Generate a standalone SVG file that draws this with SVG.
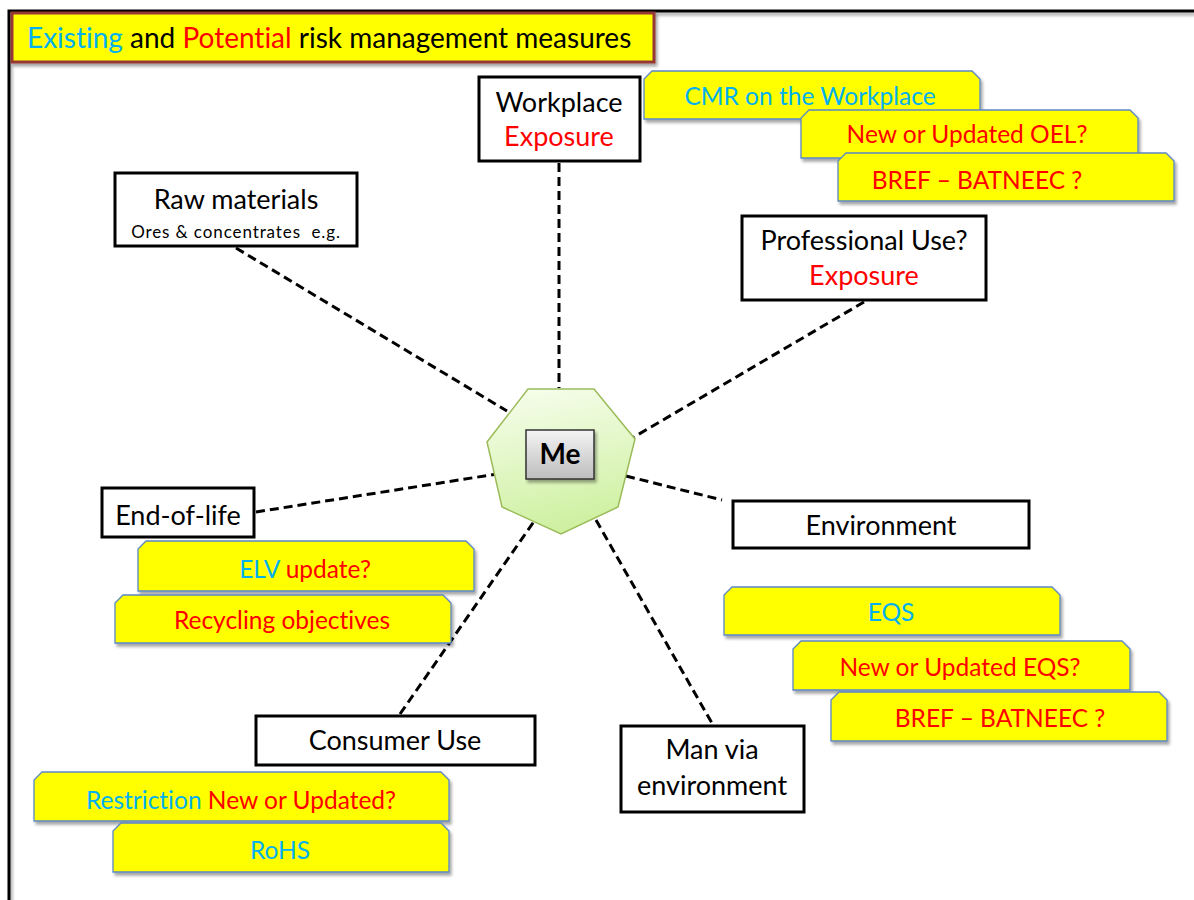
<svg xmlns="http://www.w3.org/2000/svg" width="1194" height="900" viewBox="0 0 1194 900">
  <defs>
    <filter id="shadow" x="-10%" y="-20%" width="120%" height="150%">
      <feDropShadow dx="2" dy="3" stdDeviation="1.5" flood-color="#000" flood-opacity="0.35"/>
    </filter>
    <linearGradient id="gHept" x1="0.3" y1="0" x2="0.5" y2="1">
      <stop offset="0" stop-color="#f5fdea"/>
      <stop offset="1" stop-color="#cdf09e"/>
    </linearGradient>
    <linearGradient id="gMe" x1="0" y1="0" x2="0" y2="1">
      <stop offset="0" stop-color="#f4f4f4"/>
      <stop offset="1" stop-color="#bdbdbd"/>
    </linearGradient>
    <style>
      text { font-family: Lato, "Open Sans", "Liberation Sans", sans-serif; font-variant-ligatures: none; }
      .node rect { fill: #fff; stroke: #000; stroke-width: 3; }
      .lbl { font-size: 27px; fill: #000; text-anchor: middle; }
      .call path { fill: #ffff00; stroke: #5b87c5; stroke-width: 1.3; filter: url(#shadow); }
      .ct { font-size: 24.5px; text-anchor: middle; }
      .cy { fill: #00b0f0; }
      .rd { fill: #ff0000; }
      .conn line { stroke: #000; stroke-width: 3; stroke-dasharray: 9 5; }
    </style>
  </defs>

  <!-- page frame -->
  <path d="M9,900 V11 H1194" fill="none" stroke="#000" stroke-width="3" filter="url(#shadow)"/>

  <!-- title banner -->
  <g id="title">
    <rect x="12" y="13" width="642" height="49" fill="#ffff00" stroke="#953735" stroke-width="3" filter="url(#shadow)"/>
    <text x="27" y="48" font-size="28"><tspan class="cy">Existing</tspan> and <tspan class="rd">Potential</tspan> risk management measures</text>
  </g>

  <!-- dashed connectors -->
  <g id="connectors" class="conn">
    <line x1="559" y1="163" x2="559" y2="388"/>
    <line x1="236" y1="248" x2="507" y2="411"/>
    <line x1="864" y1="302" x2="634" y2="437"/>
    <line x1="256" y1="512" x2="497" y2="474"/>
    <line x1="626" y1="476" x2="722" y2="500"/>
    <line x1="400" y1="714" x2="535" y2="520"/>
    <line x1="596" y1="520" x2="713" y2="725"/>
  </g>

  <!-- central node -->
  <g id="me">
    <polygon points="528,389 594,389 635,439 618,507 561,534 502,507 487,442" fill="url(#gHept)" stroke="#9bbb59" stroke-width="1.5"/>
    <rect x="526" y="430" width="68" height="49" fill="url(#gMe)" stroke="#333" stroke-width="1.5" filter="url(#shadow)"/>
    <text x="560" y="464" font-size="28" font-weight="bold" text-anchor="middle">Me</text>
  </g>

  <!-- outer nodes -->
  <g id="workplace" class="node">
    <rect x="479" y="77" width="161" height="84"/>
    <text class="lbl" x="559" y="112">Workplace</text>
    <text class="lbl rd" x="559" y="146">Exposure</text>
  </g>
  <g id="raw-materials" class="node">
    <rect x="115" y="173" width="242" height="73"/>
    <text class="lbl" x="236" y="209">Raw materials</text>
    <text x="236" y="238" font-size="17" letter-spacing="0.9" text-anchor="middle" xml:space="preserve">Ores &amp; concentrates  e.g.</text>
  </g>
  <g id="professional" class="node">
    <rect x="742" y="216" width="244" height="84"/>
    <text class="lbl" x="864" y="250">Professional Use?</text>
    <text class="lbl rd" x="864" y="285">Exposure</text>
  </g>
  <g id="end-of-life" class="node">
    <rect x="102" y="488" width="152" height="49"/>
    <text class="lbl" x="178" y="525">End-of-life</text>
  </g>
  <g id="environment" class="node">
    <rect x="733" y="501" width="296" height="47"/>
    <text class="lbl" x="881" y="535">Environment</text>
  </g>
  <g id="consumer" class="node">
    <rect x="256" y="716" width="279" height="49"/>
    <text class="lbl" x="395" y="750">Consumer Use</text>
  </g>
  <g id="man-via-env" class="node">
    <rect x="621" y="726" width="183" height="86"/>
    <text class="lbl" x="712" y="759">Man via</text>
    <text class="lbl" x="712" y="795">environment</text>
  </g>

  <!-- measure callouts -->
  <g id="cmr" class="call">
    <path d="M652,71 H972 L980,79 V119 H644 V79 Z"/>
    <text class="ct cy" x="810" y="105">CMR on the Workplace</text>
  </g>
  <g id="oel" class="call">
    <path d="M809,110 H1130 L1138,118 V158 H801 V118 Z"/>
    <text class="ct rd" x="967" y="143">New or Updated OEL?</text>
  </g>
  <g id="bref-work" class="call">
    <path d="M846,153 H1166 L1174,161 V201 H838 V161 Z"/>
    <text class="ct rd" x="977" y="189">BREF – BATNEEC ?</text>
  </g>
  <g id="elv" class="call">
    <path d="M146,541 H466 L474,549 V591 H138 V549 Z"/>
    <text class="ct" x="305" y="578"><tspan class="cy">ELV</tspan> <tspan class="rd">update?</tspan></text>
  </g>
  <g id="recycling" class="call">
    <path d="M123,595 H443 L451,603 V643 H115 V603 Z"/>
    <text class="ct rd" x="282" y="629">Recycling objectives</text>
  </g>
  <g id="restriction" class="call">
    <path d="M42,772 H441 L449,780 V821 H34 V780 Z"/>
    <text class="ct" x="241" y="809"><tspan class="cy">Restriction</tspan> <tspan class="rd">New or Updated?</tspan></text>
  </g>
  <g id="rohs" class="call">
    <path d="M121,823 H441 L449,831 V872 H113 V831 Z"/>
    <text class="ct cy" x="280" y="859">RoHS</text>
  </g>
  <g id="eqs" class="call">
    <path d="M732,587 H1052 L1060,595 V635 H724 V595 Z"/>
    <text class="ct cy" x="891" y="621">EQS</text>
  </g>
  <g id="eqs-new" class="call">
    <path d="M801,641 H1122 L1130,649 V690 H793 V649 Z"/>
    <text class="ct rd" x="960" y="676">New or Updated EQS?</text>
  </g>
  <g id="bref-env" class="call">
    <path d="M839,692 H1159 L1167,700 V741 H831 V700 Z"/>
    <text class="ct rd" x="1000" y="727">BREF – BATNEEC ?</text>
  </g>
</svg>
